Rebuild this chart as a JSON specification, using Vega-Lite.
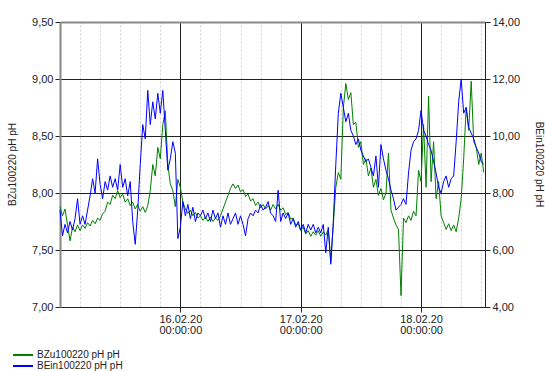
{
"$schema": "https://vega.github.io/schema/vega-lite/v6.json",
"width": 425, "height": 285,
"autosize": "none",
"padding": {"left": 60, "top": 22, "right": 60, "bottom": 64},
"background": "white",
"config": {
  "view": {"stroke": null},
  "font": "Liberation Sans",
  "axis": {"labelFont": "Liberation Sans", "labelFontSize": 11, "labelColor": "#222", "titleFont": "Liberation Sans", "titleFontSize": 10, "titleFontWeight": "normal", "titleColor": "#222", "tickColor": "#222", "tickSize": 5, "labelPadding": 2}
},
"data": {"values": [
{"t":"2020-02-15T00:00","g":7.88,"b":7.4},
{"t":"2020-02-15T00:30","g":7.80,"b":6.5},
{"t":"2020-02-15T01:00","g":7.86,"b":6.9},
{"t":"2020-02-15T01:30","g":7.72,"b":6.6},
{"t":"2020-02-15T02:00","g":7.58,"b":7.0},
{"t":"2020-02-15T02:30","g":7.70,"b":6.7},
{"t":"2020-02-15T03:00","g":7.66,"b":7.1},
{"t":"2020-02-15T03:30","g":7.72,"b":7.8},
{"t":"2020-02-15T04:00","g":7.67,"b":6.9},
{"t":"2020-02-15T04:30","g":7.72,"b":7.2},
{"t":"2020-02-15T05:00","g":7.69,"b":6.9},
{"t":"2020-02-15T05:30","g":7.74,"b":7.4},
{"t":"2020-02-15T06:00","g":7.71,"b":7.9},
{"t":"2020-02-15T06:30","g":7.76,"b":8.5},
{"t":"2020-02-15T07:00","g":7.73,"b":8.0},
{"t":"2020-02-15T07:30","g":7.78,"b":9.2},
{"t":"2020-02-15T08:00","g":7.76,"b":8.3},
{"t":"2020-02-15T08:30","g":7.82,"b":7.8},
{"t":"2020-02-15T09:00","g":7.84,"b":8.4},
{"t":"2020-02-15T09:30","g":7.92,"b":8.1},
{"t":"2020-02-15T10:00","g":7.90,"b":8.6},
{"t":"2020-02-15T10:30","g":7.98,"b":8.2},
{"t":"2020-02-15T11:00","g":7.95,"b":8.5},
{"t":"2020-02-15T11:30","g":8.02,"b":8.1},
{"t":"2020-02-15T12:00","g":7.96,"b":9.0},
{"t":"2020-02-15T12:30","g":7.99,"b":8.2},
{"t":"2020-02-15T13:00","g":7.92,"b":8.5},
{"t":"2020-02-15T13:30","g":7.95,"b":7.9},
{"t":"2020-02-15T14:00","g":7.89,"b":8.4},
{"t":"2020-02-15T14:30","g":7.92,"b":7.0},
{"t":"2020-02-15T15:00","g":7.86,"b":6.2},
{"t":"2020-02-15T15:30","g":7.90,"b":7.4},
{"t":"2020-02-15T16:00","g":7.84,"b":9.0},
{"t":"2020-02-15T16:30","g":7.88,"b":10.4},
{"t":"2020-02-15T17:00","g":7.83,"b":9.9},
{"t":"2020-02-15T17:30","g":7.89,"b":11.6},
{"t":"2020-02-15T18:00","g":8.02,"b":10.4},
{"t":"2020-02-15T18:30","g":8.25,"b":11.2},
{"t":"2020-02-15T19:00","g":8.15,"b":10.6},
{"t":"2020-02-15T19:30","g":8.40,"b":11.5},
{"t":"2020-02-15T20:00","g":8.30,"b":10.8},
{"t":"2020-02-15T20:30","g":8.60,"b":11.6},
{"t":"2020-02-15T21:00","g":8.72,"b":10.2},
{"t":"2020-02-15T21:30","g":8.25,"b":8.8},
{"t":"2020-02-15T22:00","g":8.08,"b":9.2},
{"t":"2020-02-15T22:30","g":8.02,"b":9.8},
{"t":"2020-02-15T23:00","g":7.88,"b":9.4},
{"t":"2020-02-15T23:30","g":8.12,"b":6.4},
{"t":"2020-02-16T00:00","g":8.05,"b":6.8},
{"t":"2020-02-16T00:30","g":7.92,"b":7.7},
{"t":"2020-02-16T01:00","g":7.86,"b":7.2},
{"t":"2020-02-16T01:30","g":7.82,"b":7.6},
{"t":"2020-02-16T02:00","g":7.85,"b":7.1},
{"t":"2020-02-16T02:30","g":7.80,"b":7.5},
{"t":"2020-02-16T03:00","g":7.83,"b":7.0},
{"t":"2020-02-16T03:30","g":7.78,"b":7.3},
{"t":"2020-02-16T04:00","g":7.80,"b":7.2},
{"t":"2020-02-16T04:30","g":7.76,"b":7.4},
{"t":"2020-02-16T05:00","g":7.79,"b":7.1},
{"t":"2020-02-16T05:30","g":7.75,"b":7.3},
{"t":"2020-02-16T06:00","g":7.79,"b":7.0},
{"t":"2020-02-16T06:30","g":7.75,"b":7.4},
{"t":"2020-02-16T07:00","g":7.78,"b":7.1},
{"t":"2020-02-16T07:30","g":7.76,"b":7.3},
{"t":"2020-02-16T08:00","g":7.80,"b":6.8},
{"t":"2020-02-16T08:30","g":7.86,"b":7.2},
{"t":"2020-02-16T09:00","g":7.92,"b":6.9},
{"t":"2020-02-16T09:30","g":7.98,"b":7.3},
{"t":"2020-02-16T10:00","g":8.04,"b":6.9},
{"t":"2020-02-16T10:30","g":8.08,"b":7.1},
{"t":"2020-02-16T11:00","g":8.04,"b":7.3},
{"t":"2020-02-16T11:30","g":8.07,"b":6.9},
{"t":"2020-02-16T12:00","g":8.01,"b":7.2},
{"t":"2020-02-16T12:30","g":8.03,"b":6.9},
{"t":"2020-02-16T13:00","g":7.97,"b":6.5},
{"t":"2020-02-16T13:30","g":7.99,"b":7.1},
{"t":"2020-02-16T14:00","g":7.93,"b":7.3},
{"t":"2020-02-16T14:30","g":7.95,"b":7.2},
{"t":"2020-02-16T15:00","g":7.89,"b":7.4},
{"t":"2020-02-16T15:30","g":7.92,"b":7.3},
{"t":"2020-02-16T16:00","g":7.87,"b":7.6},
{"t":"2020-02-16T16:30","g":7.90,"b":7.4},
{"t":"2020-02-16T17:00","g":7.86,"b":7.5},
{"t":"2020-02-16T17:30","g":7.89,"b":7.7},
{"t":"2020-02-16T18:00","g":7.85,"b":7.3},
{"t":"2020-02-16T18:30","g":7.90,"b":7.2},
{"t":"2020-02-16T19:00","g":7.86,"b":7.0},
{"t":"2020-02-16T19:30","g":7.90,"b":8.1},
{"t":"2020-02-16T20:00","g":7.85,"b":7.0},
{"t":"2020-02-16T20:30","g":7.87,"b":7.3},
{"t":"2020-02-16T21:00","g":7.81,"b":7.1},
{"t":"2020-02-16T21:30","g":7.83,"b":7.3},
{"t":"2020-02-16T22:00","g":7.77,"b":6.9},
{"t":"2020-02-16T22:30","g":7.78,"b":7.1},
{"t":"2020-02-16T23:00","g":7.72,"b":6.8},
{"t":"2020-02-16T23:30","g":7.73,"b":7.0},
{"t":"2020-02-17T00:00","g":7.67,"b":6.7},
{"t":"2020-02-17T00:30","g":7.70,"b":6.9},
{"t":"2020-02-17T01:00","g":7.64,"b":6.6},
{"t":"2020-02-17T01:30","g":7.67,"b":6.9},
{"t":"2020-02-17T02:00","g":7.62,"b":6.7},
{"t":"2020-02-17T02:30","g":7.66,"b":6.9},
{"t":"2020-02-17T03:00","g":7.63,"b":6.6},
{"t":"2020-02-17T03:30","g":7.67,"b":6.8},
{"t":"2020-02-17T04:00","g":7.62,"b":6.6},
{"t":"2020-02-17T04:30","g":7.66,"b":6.9},
{"t":"2020-02-17T05:00","g":7.63,"b":5.9},
{"t":"2020-02-17T05:30","g":7.68,"b":6.8},
{"t":"2020-02-17T06:00","g":7.40,"b":5.5},
{"t":"2020-02-17T06:30","g":7.72,"b":7.0},
{"t":"2020-02-17T07:00","g":8.05,"b":9.0},
{"t":"2020-02-17T07:30","g":8.18,"b":10.8},
{"t":"2020-02-17T08:00","g":8.12,"b":11.5},
{"t":"2020-02-17T08:30","g":8.75,"b":11.0},
{"t":"2020-02-17T09:00","g":8.96,"b":10.5},
{"t":"2020-02-17T09:30","g":8.82,"b":10.8},
{"t":"2020-02-17T10:00","g":8.88,"b":10.2},
{"t":"2020-02-17T10:30","g":8.60,"b":10.0},
{"t":"2020-02-17T11:00","g":8.62,"b":9.7},
{"t":"2020-02-17T11:30","g":8.40,"b":9.9},
{"t":"2020-02-17T12:00","g":8.45,"b":9.5},
{"t":"2020-02-17T12:30","g":8.25,"b":9.3},
{"t":"2020-02-17T13:00","g":8.30,"b":9.1},
{"t":"2020-02-17T13:30","g":8.15,"b":9.2},
{"t":"2020-02-17T14:00","g":8.22,"b":8.9},
{"t":"2020-02-17T14:30","g":8.05,"b":8.6},
{"t":"2020-02-17T15:00","g":8.12,"b":9.3},
{"t":"2020-02-17T15:30","g":7.98,"b":8.2},
{"t":"2020-02-17T16:00","g":8.04,"b":9.7},
{"t":"2020-02-17T16:30","g":7.94,"b":9.2},
{"t":"2020-02-17T17:00","g":8.00,"b":8.8},
{"t":"2020-02-17T17:30","g":8.35,"b":8.5},
{"t":"2020-02-17T18:00","g":7.85,"b":8.1},
{"t":"2020-02-17T18:30","g":7.78,"b":7.8},
{"t":"2020-02-17T19:00","g":7.72,"b":7.4},
{"t":"2020-02-17T19:30","g":7.68,"b":7.5},
{"t":"2020-02-17T20:00","g":7.10,"b":7.6},
{"t":"2020-02-17T20:30","g":7.78,"b":7.8},
{"t":"2020-02-17T21:00","g":7.74,"b":7.6},
{"t":"2020-02-17T21:30","g":7.80,"b":8.7},
{"t":"2020-02-17T22:00","g":7.76,"b":9.5},
{"t":"2020-02-17T22:30","g":7.84,"b":9.8},
{"t":"2020-02-17T23:00","g":7.80,"b":9.9},
{"t":"2020-02-17T23:30","g":8.20,"b":10.2},
{"t":"2020-02-18T00:00","g":8.10,"b":10.9},
{"t":"2020-02-18T00:30","g":8.60,"b":10.2},
{"t":"2020-02-18T01:00","g":8.05,"b":10.0},
{"t":"2020-02-18T01:30","g":8.85,"b":9.7},
{"t":"2020-02-18T02:00","g":8.10,"b":9.5},
{"t":"2020-02-18T02:30","g":8.45,"b":9.1},
{"t":"2020-02-18T03:00","g":7.95,"b":8.7},
{"t":"2020-02-18T03:30","g":8.10,"b":8.2},
{"t":"2020-02-18T04:00","g":7.80,"b":8.0},
{"t":"2020-02-18T04:30","g":7.74,"b":8.4},
{"t":"2020-02-18T05:00","g":7.68,"b":8.6},
{"t":"2020-02-18T05:30","g":7.73,"b":8.2},
{"t":"2020-02-18T06:00","g":7.67,"b":8.5},
{"t":"2020-02-18T06:30","g":7.72,"b":8.6},
{"t":"2020-02-18T07:00","g":7.66,"b":9.8},
{"t":"2020-02-18T07:30","g":7.78,"b":11.2},
{"t":"2020-02-18T08:00","g":7.95,"b":12.0},
{"t":"2020-02-18T08:30","g":8.30,"b":10.8},
{"t":"2020-02-18T09:00","g":8.75,"b":11.0},
{"t":"2020-02-18T09:30","g":8.55,"b":10.3},
{"t":"2020-02-18T10:00","g":8.98,"b":10.1},
{"t":"2020-02-18T10:30","g":8.45,"b":9.9},
{"t":"2020-02-18T11:00","g":8.40,"b":9.6},
{"t":"2020-02-18T11:30","g":8.25,"b":9.4},
{"t":"2020-02-18T12:00","g":8.35,"b":9.1},
{"t":"2020-02-18T12:30","g":8.18,"b":9.0}
]},
"layer": [
{
 "mark": {"type": "line", "strokeWidth": 1},
 "encoding": {
  "x": {"field": "t", "type": "temporal",
   "scale": {"domain": [{"year": 2020, "month": 2, "date": 15}, {"year": 2020, "month": 2, "date": 18, "hours": 12, "minutes": 45}]},
   "axis": {"title": null, "values": [{"year": 2020, "month": 2, "date": 16}, {"year": 2020, "month": 2, "date": 17}, {"year": 2020, "month": 2, "date": 18}],
    "labelExpr": "[timeFormat(datum.value, '%d.%m.%y'), timeFormat(datum.value, '%H:%M:%S')]",
    "labelAngle": 0, "labelFlush": false, "labelOverlap": false, "labelLineHeight": 11, "labelPadding": 1,
    "grid": true, "gridColor": "#222", "gridWidth": 1, "domainColor": "#222", "tickColor": "#222"}},
  "y": {"field": "g", "type": "quantitative",
   "scale": {"domain": [7, 9.5], "nice": false, "zero": false},
   "axis": {"title": "BZu100220 pH pH", "values": [7, 7.5, 8, 8.5, 9, 9.5],
    "labelExpr": "replace(format(datum.value, '.2f'), '.', ',')",
    "grid": true, "gridColor": {"condition": {"test": "datum.value > 9.4", "value": "#888"}, "value": "#222"},
    "domainColor": "#888", "domainWidth": 2,
    "titleX": -48, "titleY": 142, "titleAngle": -90, "titleAlign": "center", "titleBaseline": "middle"}},
  "color": {"datum": "BZu100220 pH pH",
   "scale": {"domain": ["BZu100220 pH pH", "BEin100220 pH pH"], "range": ["#008000", "#0000ff"]},
   "legend": {"orient": "none", "legendX": -43, "legendY": 327, "title": null, "symbolType": "M-2,0H2", "symbolSize": 100, "symbolStrokeWidth": 2, "labelFontSize": 10, "labelFont": "Liberation Sans", "labelColor": "#222", "rowPadding": 0, "labelOffset": 8, "padding": 0, "direction": "vertical"}}
 }
},
{
 "mark": {"type": "line", "strokeWidth": 1},
 "encoding": {
  "x": {"field": "t", "type": "temporal",
   "axis": {"title": null, "orient": "top", "labels": false, "ticks": false,
    "values": [
     {"year": 2020, "month": 2, "date": 15, "hours": 4}, {"year": 2020, "month": 2, "date": 15, "hours": 8}, {"year": 2020, "month": 2, "date": 15, "hours": 12}, {"year": 2020, "month": 2, "date": 15, "hours": 16}, {"year": 2020, "month": 2, "date": 15, "hours": 20},
     {"year": 2020, "month": 2, "date": 16, "hours": 4}, {"year": 2020, "month": 2, "date": 16, "hours": 8}, {"year": 2020, "month": 2, "date": 16, "hours": 12}, {"year": 2020, "month": 2, "date": 16, "hours": 16}, {"year": 2020, "month": 2, "date": 16, "hours": 20},
     {"year": 2020, "month": 2, "date": 17, "hours": 4}, {"year": 2020, "month": 2, "date": 17, "hours": 8}, {"year": 2020, "month": 2, "date": 17, "hours": 12}, {"year": 2020, "month": 2, "date": 17, "hours": 16}, {"year": 2020, "month": 2, "date": 17, "hours": 20},
     {"year": 2020, "month": 2, "date": 18, "hours": 4}, {"year": 2020, "month": 2, "date": 18, "hours": 8}, {"year": 2020, "month": 2, "date": 18, "hours": 12}],
    "grid": true, "gridColor": "#d0d0d0", "gridDash": [2, 2], "gridWidth": 1,
    "domain": true, "domainColor": "#888", "domainWidth": 2}},
  "y": {"field": "b", "type": "quantitative",
   "scale": {"domain": [4, 14], "nice": false, "zero": false},
   "axis": {"orient": "right", "title": "BEin100220 pH pH", "values": [4, 6, 8, 10, 12, 14],
    "labelExpr": "replace(format(datum.value, '.2f'), '.', ',')",
    "grid": false, "domainColor": "#222",
    "titleX": 53, "titleY": 142, "titleAngle": 90, "titleAlign": "center", "titleBaseline": "middle"}},
  "color": {"datum": "BEin100220 pH pH"}
 }
}
],
"resolve": {"scale": {"y": "independent"}, "axis": {"x": "independent"}}
}
